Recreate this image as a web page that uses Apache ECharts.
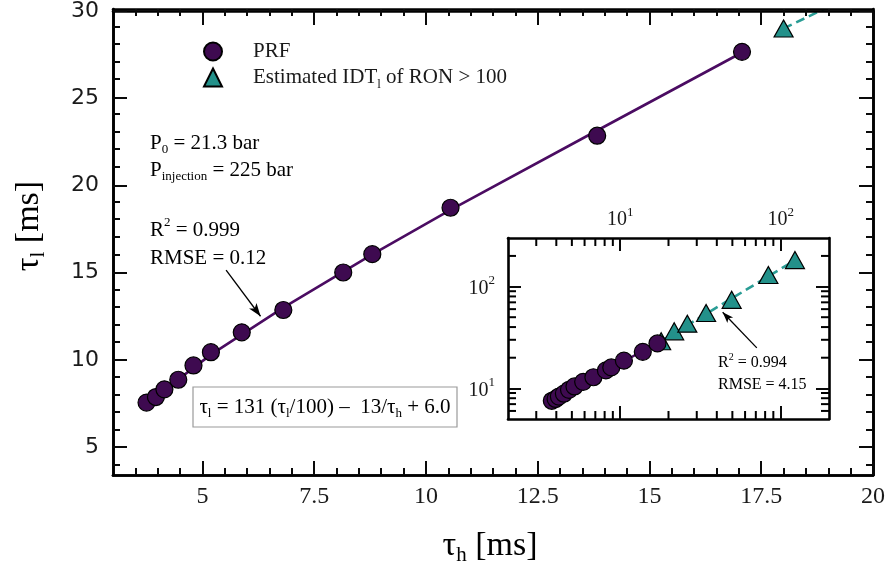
<!DOCTYPE html>
<html>
<head>
<meta charset="utf-8">
<script src="https://cdn.jsdelivr.net/npm/echarts@6/dist/echarts.min.js"></script>
<style>
  html, body { margin: 0; padding: 0; background: #fff; }
  #chart { width: 892px; height: 575px; }
</style>
</head>
<body>
<div id="chart"></div>
<script>
// PRF measurements: high-temperature (tau_h) vs low-temperature (tau_l) ignition delay, ms
const prfTauH = [3.75, 3.96, 4.15, 4.46, 4.80, 5.19, 5.88, 6.81, 8.15, 8.80, 10.55, 13.83, 17.07];
const prfTauL = [7.55, 7.87, 8.31, 8.86, 9.68, 10.44, 11.58, 12.86, 15.01, 16.06, 18.72, 22.85, 27.66];

// Estimated IDT_l for fuels with RON > 100
const estTauH = [18.0, 21.7, 26.2, 34.3, 49.5, 83.8, 122.7];
const estTauL = [29.0, 36.3, 43.2, 55.0, 74.1, 130, 182];

// Fitted correlation traced over the measured range
const fitTauH = [3.75, 5.19, 6.81, 8.80, 10.55, 13.83, 17.07];
const fitTauL = [7.50, 10.30, 13.00, 16.05, 18.60, 23.15, 27.62];
// Extrapolated part of the correlation (main axes / log inset)
const extTauH = [18.0, 19.3];
const extTauL = [29.0, 30.6];
const extLogTauH = [18.2, 124];
const extLogTauL = [29.5, 183];

// Tick positions (main plot, linear)
const xMajorTicks = [5, 7.5, 10, 12.5, 15, 17.5, 20];
const xMinorTicks = [3.5, 4, 4.5, 5.5, 6, 6.5, 7, 8, 8.5, 9, 9.5, 10.5, 11, 11.5, 12, 13, 13.5, 14, 14.5,
                     15.5, 16, 16.5, 17, 18, 18.5, 19, 19.5];
const yMajorTicks = [5, 10, 15, 20, 25, 30];
const yMinorTicks = [4, 6, 7, 8, 9, 11, 12, 13, 14, 16, 17, 18, 19, 21, 22, 23, 24, 26, 27, 28, 29];
// Tick positions (inset, logarithmic)
const logMajorTicks = [10, 100];
const logXMinorTicks = [3, 4, 5, 6, 7, 8, 9, 20, 30, 40, 50, 60, 70, 80, 90];
const logYMinorTicks = [6, 7, 8, 9, 20, 30, 40, 50, 60, 70, 80, 90, 200];
const insetXRange = [2, 200];
const insetYRange = [5, 300];

const NAME_PRF = 'PRF';
const NAME_EST = 'Estimated IDT_l of RON > 100';

const SERIF = '"Liberation Serif", "Times New Roman", serif';
const SANS = '"DejaVu Sans", sans-serif';
const INK = '#1a1a1a';
const PURPLE = '#3e0a50';
const PURPLE_LINE = '#4b0c62';
const TEAL = '#23918a';
const TEAL_LINE = '#2a9d95';

const pairs = (xs, ys) => xs.map((x, i) => [x, ys[i]]);
const lg = v => Math.log10(v);

// rich text styles with subscript (s) and superscript (p) tokens
function richSet(size) {
  const small = Math.round(size * 0.62);
  return {
    n: { fontSize: size, fontFamily: SERIF, color: INK, lineHeight: size + 6, verticalAlign: 'middle' },
    s: { fontSize: small, fontFamily: SERIF, color: INK, lineHeight: small + 1, verticalAlign: 'bottom' },
    p: { fontSize: small, fontFamily: SERIF, color: INK, lineHeight: small + 1, verticalAlign: 'top' }
  };
}

const mainRect = { left: 113, top: 9, width: 760, height: 466 };
const insetRect = { left: 508, top: 238, width: 321, height: 181 };

// value axis drawing one side of a frame, with inward ticks at the given positions
function tickAxis(pos, grid, min, max, ticks, len, labels) {
  return {
    type: 'value', gridIndex: grid, position: pos, min: min, max: max, z: 10,
    axisLine: { show: true, onZero: false, lineStyle: { color: '#000', width: 2.6 } },
    axisTick: { show: true, inside: true, length: len, customValues: ticks.slice(),
                lineStyle: { color: '#0a0a0a', width: 2 } },
    axisLabel: labels || { show: false },
    splitLine: { show: false }
  };
}
// hidden log axis carrying the inset data
function dataLogAxis(pos, grid, range) {
  return {
    type: 'log', logBase: 10, gridIndex: grid, position: pos, min: range[0], max: range[1],
    axisLine: { show: false }, axisTick: { show: false }, axisLabel: { show: false }, splitLine: { show: false }
  };
}

function decadeLabel(margin) {
  return {
    show: true,
    customValues: logMajorTicks.map(lg),
    margin: margin,
    formatter: v => '{b|10}{e|' + Math.round(v) + '}',
    rich: {
      b: { fontSize: 20, fontFamily: SERIF, color: INK, lineHeight: 24, verticalAlign: 'bottom' },
      e: { fontSize: 13, fontFamily: SERIF, color: INK, lineHeight: 13, verticalAlign: 'top' }
    }
  };
}

const lx = insetXRange.map(lg);
const ly = insetYRange.map(lg);

const xAxes = [
  // main frame: major ticks (with labels at the bottom), then minor ticks
  tickAxis('bottom', 0, 3, 20, xMajorTicks, 14,
    { show: true, customValues: xMajorTicks, fontSize: 24, fontFamily: SERIF, color: INK, margin: 10 }),
  tickAxis('top', 0, 3, 20, xMajorTicks, 14),
  tickAxis('bottom', 1, 3, 20, xMinorTicks, 7),
  tickAxis('top', 1, 3, 20, xMinorTicks, 7),
  // inset data axis
  dataLogAxis('bottom', 2, insetXRange),
  // inset frame in decades, major ticks
  tickAxis('top', 3, lx[0], lx[1], logMajorTicks.map(lg), 13, decadeLabel(8)),
  tickAxis('bottom', 3, lx[0], lx[1], logMajorTicks.map(lg), 13)
];

const yAxes = [
  tickAxis('left', 0, 3.4, 30, yMajorTicks, 14,
    { show: true, customValues: yMajorTicks, fontSize: 22, fontFamily: SANS, color: INK, margin: 14 }),
  tickAxis('right', 0, 3.4, 30, yMajorTicks, 14),
  tickAxis('left', 1, 3.4, 30, yMinorTicks, 7),
  tickAxis('right', 1, 3.4, 30, yMinorTicks, 7),
  dataLogAxis('left', 2, insetYRange),
  tickAxis('left', 3, ly[0], ly[1], logMajorTicks.map(lg), 13, decadeLabel(13)),
  tickAxis('right', 3, ly[0], ly[1], logMajorTicks.map(lg), 13)
];

// Minor ticks of the log inset frame: short inward strokes placed through the log axes
const MINOR_PX = 8;
const tickStroke = { stroke: '#000', lineWidth: 2 };
function renderXMinor(params, api) {
  const v = api.value(0);
  const b = api.coord([v, insetYRange[0]]);
  const t = api.coord([v, insetYRange[1]]);
  return { type: 'group', children: [
    { type: 'line', shape: { x1: b[0], y1: b[1], x2: b[0], y2: b[1] - MINOR_PX }, style: tickStroke },
    { type: 'line', shape: { x1: t[0], y1: t[1], x2: t[0], y2: t[1] + MINOR_PX }, style: tickStroke }
  ] };
}
function renderYMinor(params, api) {
  const v = api.value(1);
  const l = api.coord([insetXRange[0], v]);
  const r = api.coord([insetXRange[1], v]);
  return { type: 'group', children: [
    { type: 'line', shape: { x1: l[0], y1: l[1], x2: l[0] + MINOR_PX, y2: l[1] }, style: tickStroke },
    { type: 'line', shape: { x1: r[0], y1: r[1], x2: r[0] - MINOR_PX, y2: r[1] }, style: tickStroke }
  ] };
}

const circleStyle = { color: PURPLE, borderColor: '#000', borderWidth: 1.2, opacity: 1 };
const triStyle = { color: TEAL, borderColor: '#000', borderWidth: 1.2, opacity: 1 };
const arrowLine = {
  silent: true, symbol: ['none', 'arrow'], symbolSize: [7, 13],
  lineStyle: { color: '#000', width: 1.3, type: 'solid' },
  label: { show: false }, emphasis: { disabled: true }
};

const series = [
  { type: 'line', name: 'fit', xAxisIndex: 0, yAxisIndex: 0, data: pairs(fitTauH, fitTauL),
    showSymbol: false, lineStyle: { color: PURPLE_LINE, width: 2.6 }, z: 2 },
  { type: 'line', name: 'fit-ext', xAxisIndex: 0, yAxisIndex: 0, data: pairs(extTauH, extTauL),
    showSymbol: false, lineStyle: { color: TEAL_LINE, width: 2.6, type: [9, 5] }, z: 2, clip: true },
  { type: 'scatter', name: NAME_EST, xAxisIndex: 0, yAxisIndex: 0, data: pairs(estTauH, estTauL),
    symbol: 'triangle', symbolSize: [19, 17], itemStyle: triStyle, z: 4, clip: true },
  { type: 'scatter', name: NAME_PRF, xAxisIndex: 0, yAxisIndex: 0, data: pairs(prfTauH, prfTauL),
    symbol: 'circle', symbolSize: 17, itemStyle: circleStyle, z: 5,
    markLine: Object.assign({}, arrowLine, { data: [[{ coord: [5.53, 15.15] }, { coord: [6.30, 12.5] }]] }) },

  { type: 'line', name: 'fit-log', xAxisIndex: 4, yAxisIndex: 4, data: pairs(fitTauH, fitTauL),
    showSymbol: false, lineStyle: { color: PURPLE_LINE, width: 2.4 }, z: 2 },
  { type: 'line', name: 'fit-log-ext', xAxisIndex: 4, yAxisIndex: 4, data: pairs(extLogTauH, extLogTauL),
    showSymbol: false, lineStyle: { color: TEAL_LINE, width: 2.6, type: [9, 5] }, z: 2 },
  { type: 'scatter', name: NAME_EST, xAxisIndex: 4, yAxisIndex: 4, data: pairs(estTauH, estTauL),
    symbol: 'triangle', symbolSize: [19, 17], itemStyle: triStyle, z: 4,
    markLine: Object.assign({}, arrowLine, { symbolSize: [6, 11], data: [[{ coord: [71, 25] }, { coord: [43.5, 56] }]] }) },
  { type: 'scatter', name: NAME_PRF, xAxisIndex: 4, yAxisIndex: 4, data: pairs(prfTauH, prfTauL),
    symbol: 'circle', symbolSize: 17, itemStyle: circleStyle, z: 5 },

  { type: 'custom', name: 'inset-x-minor', xAxisIndex: 4, yAxisIndex: 4, silent: true, z: 20, clip: false,
    data: logXMinorTicks.map(v => [v, logMajorTicks[0]]), renderItem: renderXMinor },
  { type: 'custom', name: 'inset-y-minor', xAxisIndex: 4, yAxisIndex: 4, silent: true, z: 20, clip: false,
    data: logYMinorTicks.map(v => [logMajorTicks[0], v]), renderItem: renderYMinor }
];

const r21 = richSet(21);
const r16 = richSet(16);
const r34 = richSet(34);

function note(x, y, text, rich) {
  return { type: 'text', x: x, y: y, z: 50,
    style: { text: text, rich: rich, align: 'left', verticalAlign: 'middle' } };
}

const graphic = [
  note(150, 143, '{n|P}{s|0}{n| = 21.3 bar}', r21),
  note(150, 170, '{n|P}{s|injection}{n| = 225 bar}', r21),
  note(150, 230, '{n|R}{p|2}{n| = 0.999}', r21),
  note(150, 258, '{n|RMSE = 0.12}', r21),
  note(718, 363, '{n|R}{p|2}{n| = 0.994}', r16),
  note(718, 385, '{n|RMSE = 4.15}', r16),
  { type: 'rect', z: 40, shape: { x: 193, y: 387, width: 264, height: 40 },
    style: { fill: '#fff', stroke: '#9a9a9a', lineWidth: 1.2 } },
  { type: 'text', x: 325, y: 407, z: 50,
    style: { text: '{n|τ}{s|l}{n| = 131 (τ}{s|l}{n|/100) –  13/τ}{s|h}{n| + 6.0}', rich: r21,
             align: 'center', verticalAlign: 'middle' } },
  // axis titles
  { type: 'text', x: 490, y: 546, z: 50,
    style: { text: '{n|τ}{s|h}{n| [ms]}', rich: r34, align: 'center', verticalAlign: 'middle' } },
  { type: 'text', x: 29, y: 226, z: 50, rotation: Math.PI / 2,
    style: { text: '{n|τ}{s|l}{n| [ms]}', rich: r34, align: 'center', verticalAlign: 'middle' } }
];

const option = {
  animation: false,
  backgroundColor: '#fff',
  grid: [
    Object.assign({}, mainRect),
    Object.assign({}, mainRect),
    Object.assign({}, insetRect),
    Object.assign({}, insetRect)
  ],
  xAxis: xAxes,
  yAxis: yAxes,
  legend: {
    orient: 'vertical', left: 198, top: 36, itemWidth: 18, itemHeight: 18, itemGap: 5,
    selectedMode: false,
    data: [{ name: NAME_PRF, icon: 'circle' }, { name: NAME_EST, icon: 'triangle' }],
    formatter: name => name === NAME_PRF ? '{n|PRF}' : '{n|Estimated IDT}{s|l}{n| of RON > 100}',
    textStyle: { padding: [0, 0, 0, 26], rich: r21 }
  },
  graphic: graphic,
  series: series
};

const chart = echarts.init(document.getElementById('chart'));
chart.setOption(option);
</script>
</body>
</html>
